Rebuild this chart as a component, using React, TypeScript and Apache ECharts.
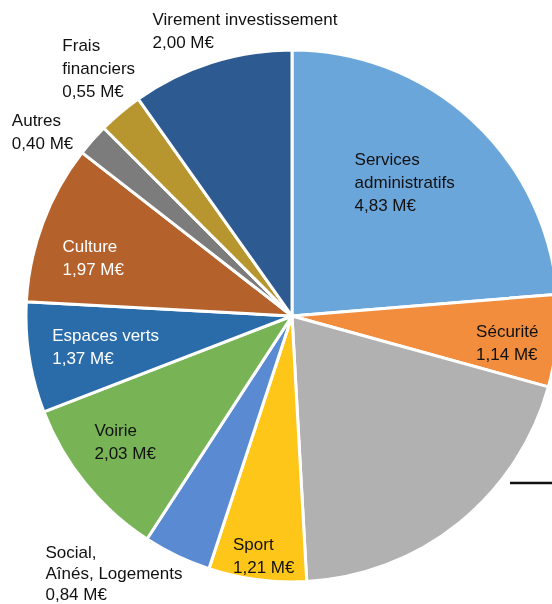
import React, { useEffect, useRef } from "react";
import * as echarts from "echarts";

// ---- data ----
const categories = [
  "Services\nadministratifs",
  "Sécurité",
  "Enseignement",
  "Sport",
  "Social,\nAînés, Logements",
  "Voirie",
  "Espaces verts",
  "Culture",
  "Autres",
  "Frais\nfinanciers",
  "Virement investissement",
];
const values = [4.83, 1.14, 4.04, 1.21, 0.84, 2.03, 1.37, 1.97, 0.4, 0.55, 2.0];
const unit = "M€";

// ---- style ----
const colors = [
  "#6ba6db",
  "#f18d3c",
  "#b1b1b1",
  "#ffc61a",
  "#5a8bd2",
  "#78b455",
  "#2a6ca9",
  "#b5612b",
  "#7c7c7c",
  "#b8962f",
  "#2d5a90",
];
const labelColors = [
  "#111", "#111", "#111", "#111", "#111", "#111",
  "#fff", "#fff", "#111", "#111", "#111",
];
const labelLineHeights = [23, 23, 23, 23, 21, 23, 23, 23, 23, 23, 23];
const hiddenLabels = [2];
// [distance from centre in px, angle offset from slice mid-angle in degrees]
const labelTweaks: [number, number][] = [
  [175, -2.6],
  [217, 1.8],
  [0, 0],
  [242, -0.8],
  [313.4, 9.0],
  [209, 2.0],
  [189, -0.5],
  [207, -4.3],
  [310, -5.0],
  [314, 2.2],
  [289, 8.3],
];

const CX = 292;
const CY = 316;
const R = 266;

function fmt(v: number) {
  return v.toFixed(2).replace(".", ",") + " " + unit;
}

export default function App() {
  const ref = useRef<HTMLDivElement>(null);
  useEffect(() => {
    if (!ref.current) return;
    const chart = echarts.init(ref.current, undefined, { renderer: "svg" });
    const total = values.reduce((a, b) => a + b, 0);
    const mids: number[] = [];
    let acc = 0;
    values.forEach((v) => {
      const a = (v / total) * 360;
      mids.push(acc + a / 2);
      acc += a;
    });

    const data = values.map((v, i) => ({
      name: categories[i],
      value: v,
      itemStyle: { color: colors[i] },
      label: {
        show: hiddenLabels.indexOf(i) < 0,
        color: labelColors[i],
        lineHeight: labelLineHeights[i],
      },
    }));

    chart.setOption({
      animation: false,
      graphic: [
        {
          type: "line",
          shape: { x1: 510, y1: 483, x2: 552, y2: 483 },
          style: { stroke: "#111", lineWidth: 2.5 },
        },
      ],
      series: [
        {
          type: "pie",
          center: [CX, CY],
          radius: [0, R],
          startAngle: 90,
          clockwise: true,
          avoidLabelOverlap: false,
          itemStyle: { borderColor: "#fff", borderWidth: 3 },
          label: {
            position: "inside",
            fontFamily: "Liberation Sans, Arial, sans-serif",
            fontSize: 17,
            lineHeight: 23,
            align: "left",
            formatter: (p: any) => p.name + "\n" + fmt(p.value),
          },
          labelLine: { show: false },
          labelLayout: (params: any) => {
            const i = params.dataIndex;
            const [d, da] = labelTweaks[i];
            const ang = ((mids[i] + da) * Math.PI) / 180;
            const x = CX + d * Math.sin(ang);
            const y = CY - d * Math.cos(ang);
            const w = params.labelRect.width;
            const h = params.labelRect.height;
            return {
              x: x - w / 2,
              y: y - h / 2,
              align: "left",
              verticalAlign: "top",
            };
          },
          emphasis: { disabled: true },
          data,
        },
      ],
    });
    return () => chart.dispose();
  }, []);
  return (
    <div
      ref={ref}
      style={{ position: "fixed", left: 0, top: 0, width: 552, height: 604 }}
    />
  );
}
